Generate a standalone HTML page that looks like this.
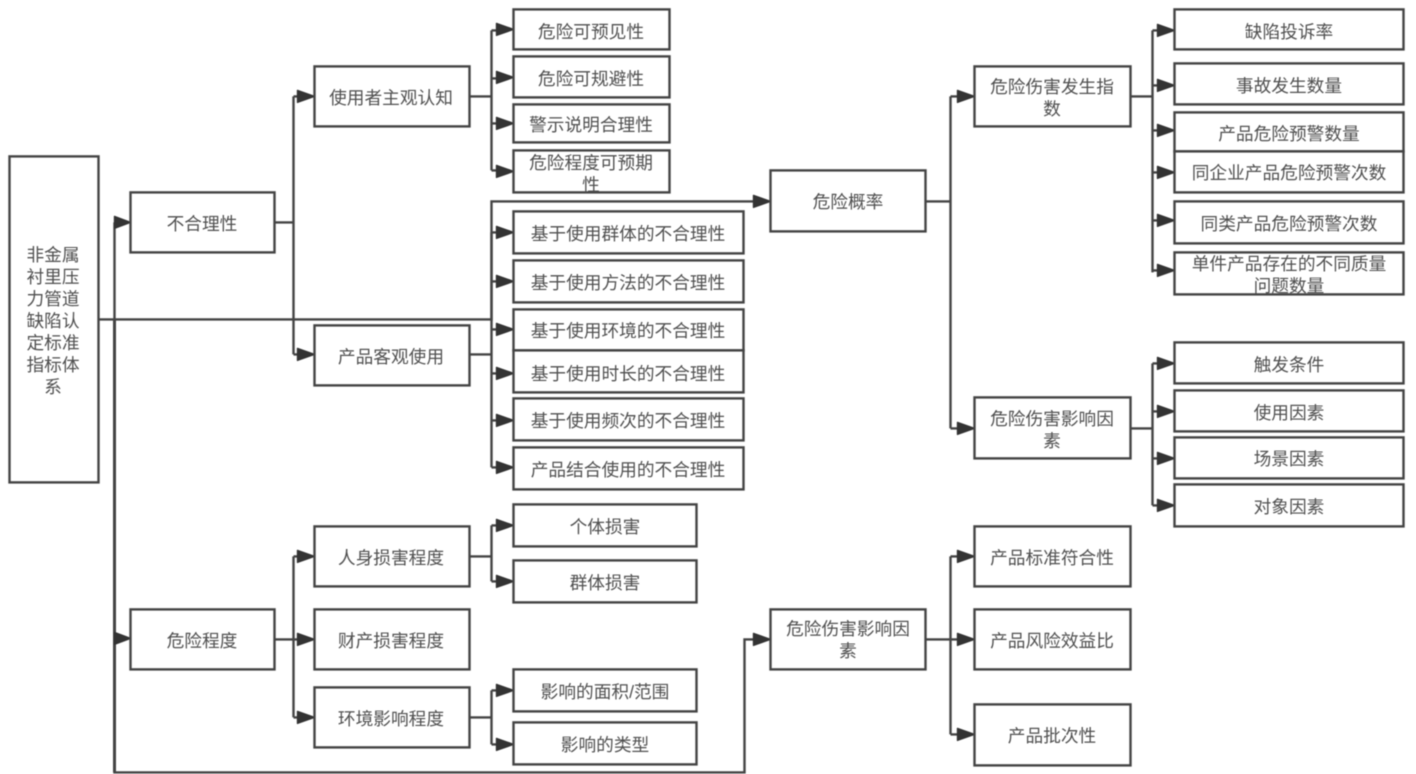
<!DOCTYPE html>
<html lang="zh"><head><meta charset="utf-8"><style>
html,body{margin:0;padding:0;background:#fff;width:1416px;height:774px;overflow:hidden}
svg{display:block;filter:blur(.45px)}
rect{fill:#fff;stroke:#444;stroke-width:2.4;transform:translate(.5px,.4px)}
path.l{fill:none;stroke:#444;stroke-width:2.4;transform:translate(.5px,.4px)}
polygon{fill:#333;stroke:#333;stroke-width:1.4;stroke-linejoin:round;transform:translate(.5px,.4px)}
text{font-family:"Liberation Sans","Noto Sans CJK SC",sans-serif;font-size:17.7px;fill:#505050;text-anchor:middle;dominant-baseline:central;transform:translate(0,1px)}
</style></head><body>
<svg width="1416" height="774" viewBox="0 0 1416 774" xmlns="http://www.w3.org/2000/svg">
<path class="l" d="M98 319H491V201H754"/>
<path class="l" d="M114 222V772H744V639H754M114 222H116M114 638H116"/>
<path class="l" style="stroke-width:3" d="M114 319V772"/>
<path class="l" d="M274 222H293M293 96V354M293 96H298M293 354H298"/>
<path class="l" d="M469 96H491M491 30V170M491 30H497M491 78H497M491 123H497M491 170H497"/>
<path class="l" d="M469 354H491M491 232V467M491 232H497M491 281H497M491 329H497M491 373H497M491 420H497M491 467H497"/>
<path class="l" d="M274 639H293M293 556V717M293 556H298M293 639H298M293 717H298"/>
<path class="l" d="M469 556H491M491 525V581M491 525H497M491 581H497"/>
<path class="l" d="M469 717H491M491 690V744M491 690H497M491 744H497"/>
<path class="l" d="M925 201H950M950 96V428M950 96H958M950 428H958"/>
<path class="l" d="M925 639H950M950 556V734M950 556H958M950 639H958M950 734H958"/>
<path class="l" d="M1130 96H1152M1152 30V272M1152 30H1158M1152 85H1158M1152 130H1158M1152 172H1158M1152 220H1158M1152 270H1158"/>
<path class="l" d="M1130 428H1152M1152 363V505M1152 363H1158M1152 411H1158M1152 458H1158M1152 505H1158"/>

<polygon points="114,216 130,222 114,228 "/><polygon points="114,632 130,638 114,644"/>
<polygon points="297,90 314,96 297,102"/><polygon points="297,348 314,354 297,360"/>
<polygon points="297,550 314,556 297,562"/><polygon points="297,633 314,639 297,645"/><polygon points="297,711 314,717 297,723"/>
<polygon points="496,23 513,29 496,35"/><polygon points="496,71 513,77 496,83"/><polygon points="496,117 513,123 496,129"/><polygon points="496,165 513,171 496,177"/>
<polygon points="496,226 513,232 496,238"/><polygon points="496,275 513,281 496,287"/><polygon points="496,323 513,329 496,335"/><polygon points="496,367 513,373 496,379"/><polygon points="496,414 513,420 496,426"/><polygon points="496,461 513,467 496,473"/>
<polygon points="496,519 513,525 496,531"/><polygon points="496,575 513,581 496,587"/><polygon points="496,684 513,690 496,696"/><polygon points="496,738 513,744 496,750"/>
<polygon points="753,195 770,201 753,207"/><polygon points="753,633 770,639 753,645"/>
<polygon points="957,90 974,96 957,102"/><polygon points="957,422 974,428 957,434"/><polygon points="957,550 974,556 957,562"/><polygon points="957,633 974,639 957,645"/><polygon points="957,728 974,734 957,740"/>
<polygon points="1157,24 1174,30 1157,36"/><polygon points="1157,79 1174,85 1157,91"/><polygon points="1157,124 1174,130 1157,136"/><polygon points="1157,166 1174,172 1157,178"/><polygon points="1157,214 1174,220 1157,226"/><polygon points="1157,264 1174,270 1157,276"/>
<polygon points="1157,357 1174,363 1157,369"/><polygon points="1157,405 1174,411 1157,417"/><polygon points="1157,452 1174,458 1157,464"/><polygon points="1157,499 1174,505 1157,511"/>

<rect x="9" y="156" width="89" height="326"/>
<rect x="130" y="192" width="144" height="60"/><rect x="130" y="609" width="144" height="60"/>
<rect x="314" y="66" width="155" height="60"/><rect x="314" y="325" width="155" height="60"/><rect x="314" y="526" width="155" height="60"/><rect x="314" y="609" width="155" height="60"/><rect x="314" y="687" width="155" height="60"/>
<rect x="513" y="9" width="156" height="40"/><rect x="513" y="56" width="156" height="41"/><rect x="513" y="104" width="156" height="38"/><rect x="513" y="150" width="156" height="42"/>
<rect x="513" y="211" width="230" height="42"/><rect x="513" y="260" width="230" height="42"/><rect x="513" y="309" width="230" height="41"/><rect x="513" y="350" width="230" height="42"/><rect x="513" y="398" width="230" height="42"/><rect x="513" y="447" width="230" height="42"/>
<rect x="513" y="504" width="183" height="42"/><rect x="513" y="560" width="183" height="42"/><rect x="513" y="669" width="183" height="42"/><rect x="513" y="722" width="183" height="42"/>
<rect x="770" y="170" width="155" height="61"/><rect x="770" y="609" width="155" height="60"/>
<rect x="974" y="66" width="156" height="60"/><rect x="974" y="397" width="156" height="61"/><rect x="974" y="526" width="156" height="60"/><rect x="974" y="609" width="156" height="60"/><rect x="974" y="704" width="156" height="61"/>
<rect x="1174" y="9" width="229" height="40"/><rect x="1174" y="63" width="229" height="41"/><rect x="1174" y="112" width="229" height="39"/><rect x="1174" y="151" width="229" height="41"/><rect x="1174" y="201" width="229" height="42"/><rect x="1174" y="252" width="229" height="42"/>
<rect x="1174" y="342" width="229" height="41"/><rect x="1174" y="390" width="229" height="41"/><rect x="1174" y="437" width="229" height="41"/><rect x="1174" y="484" width="229" height="42"/>

<text x="53" y="254">非金属</text><text x="53" y="276">衬里压</text><text x="53" y="298">力管道</text><text x="53" y="320">缺陷认</text><text x="53" y="342">定标准</text><text x="53" y="364">指标体</text><text x="53" y="386">系</text>
<text x="202" y="223">不合理性</text><text x="202" y="640">危险程度</text>
<text x="391" y="97">使用者主观认知</text><text x="391" y="356">产品客观使用</text><text x="391" y="557">人身损害程度</text><text x="391" y="640">财产损害程度</text><text x="391" y="718">环境影响程度</text>
<text x="591" y="31">危险可预见性</text><text x="591" y="78">危险可规避性</text><text x="591" y="124">警示说明合理性</text><text x="591" y="162">危险程度可预期</text><text x="591" y="184">性</text>
<text x="628" y="233">基于使用群体的不合理性</text><text x="628" y="282">基于使用方法的不合理性</text><text x="628" y="330">基于使用环境的不合理性</text><text x="628" y="373">基于使用时长的不合理性</text><text x="628" y="420">基于使用频次的不合理性</text><text x="628" y="469">产品结合使用的不合理性</text>
<text x="605" y="526">个体损害</text><text x="605" y="582">群体损害</text><text x="605" y="691">影响的面积/范围</text><text x="605" y="744">影响的类型</text>
<text x="848" y="201">危险概率</text><text x="848" y="628">危险伤害影响因</text><text x="848" y="650">素</text>
<text x="1052" y="86">危险伤害发生指</text><text x="1052" y="108">数</text><text x="1052" y="418">危险伤害影响因</text><text x="1052" y="440">素</text>
<text x="1052" y="557">产品标准符合性</text><text x="1052" y="640">产品风险效益比</text><text x="1052" y="735">产品批次性</text>
<text x="1289" y="31">缺陷投诉率</text><text x="1289" y="85">事故发生数量</text><text x="1289" y="133">产品危险预警数量</text><text x="1289" y="172">同企业产品危险预警次数</text><text x="1289" y="223">同类产品危险预警次数</text><text x="1289" y="263">单件产品存在的不同质量</text><text x="1289" y="285">问题数量</text>
<text x="1289" y="364">触发条件</text><text x="1289" y="412">使用因素</text><text x="1289" y="458">场景因素</text><text x="1289" y="506">对象因素</text>
</svg>
</body></html>
